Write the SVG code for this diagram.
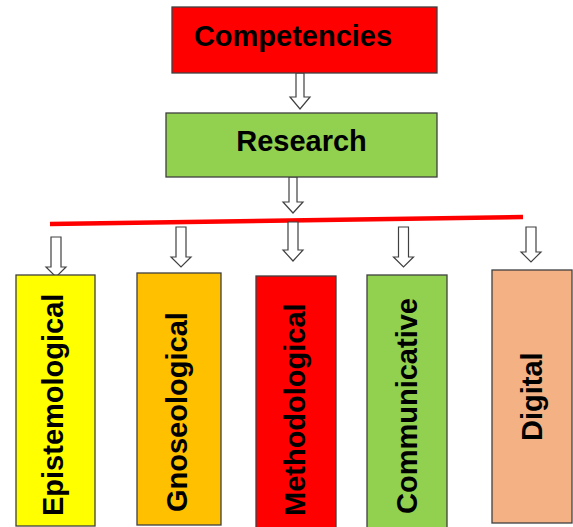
<svg xmlns="http://www.w3.org/2000/svg" width="573" height="527" viewBox="0 0 573 527">
<style>
.box{stroke:#3f3f3f;stroke-width:1.3}
.lbl{font-family:"Liberation Sans",Arial,sans-serif;font-weight:bold;font-size:29px;fill:#000}
.arr{fill:#fff;stroke:#404040;stroke-width:1.2;stroke-linejoin:miter}
</style>
<rect width="573" height="527" fill="#fff"/>
<g id="connectors">
<line x1="50" y1="224" x2="523" y2="217" stroke="#ff0000" stroke-width="4.5"/>
<path class="arr" d="M296,73 H304 V97 H310 L300,109 L290,97 H296 Z"/>
<path class="arr" d="M289,177 H297 V202 H303 L293,213 L283,202 H289 Z"/>
<path class="arr" d="M51,237 H61 V267 H66 L56,277 L46,267 H51 Z"/>
<path class="arr" d="M176,227 H186 V257 H191 L181,267 L171,257 H176 Z"/>
<path class="arr" d="M288,222 H298 V250 H303 L293,261 L283,250 H288 Z"/>
<path class="arr" d="M398.5,227 H408.5 V257 H413.5 L403.5,267 L393.5,257 H398.5 Z"/>
<path class="arr" d="M526,227 H536 V252 H541 L531,262 L521,252 H526 Z"/>
</g>
<g id="competencies">
<rect class="box" x="172" y="7" width="265" height="66" fill="#ff0000"/>
<text class="lbl" x="293" y="46" text-anchor="middle">Competencies</text>
</g>
<g id="research">
<rect class="box" x="166" y="113" width="271" height="64" fill="#92d050"/>
<text class="lbl" x="301.5" y="151" text-anchor="middle">Research</text>
</g>
<g id="epistemological">
<rect class="box" x="16" y="275" width="79" height="251" fill="#ffff00"/>
<text class="lbl" transform="translate(63,516) rotate(-90)">Epistemological</text>
</g>
<g id="gnoseological">
<rect class="box" x="137" y="273" width="84" height="252" fill="#ffc000"/>
<text class="lbl" transform="translate(187,512) rotate(-90)">Gnoseological</text>
</g>
<g id="methodological">
<rect class="box" x="256" y="276" width="80" height="252" fill="#ff0000"/>
<text class="lbl" transform="translate(305,516) rotate(-90)">Methodological</text>
</g>
<g id="communicative">
<rect class="box" x="367" y="275" width="80" height="253" fill="#92d050"/>
<text class="lbl" transform="translate(417,514) rotate(-90)">Communicative</text>
</g>
<g id="digital">
<rect class="box" x="492" y="270" width="80" height="253" fill="#f4b183"/>
<text class="lbl" transform="translate(542,441) rotate(-90)">Digital</text>
</g>
</svg>
